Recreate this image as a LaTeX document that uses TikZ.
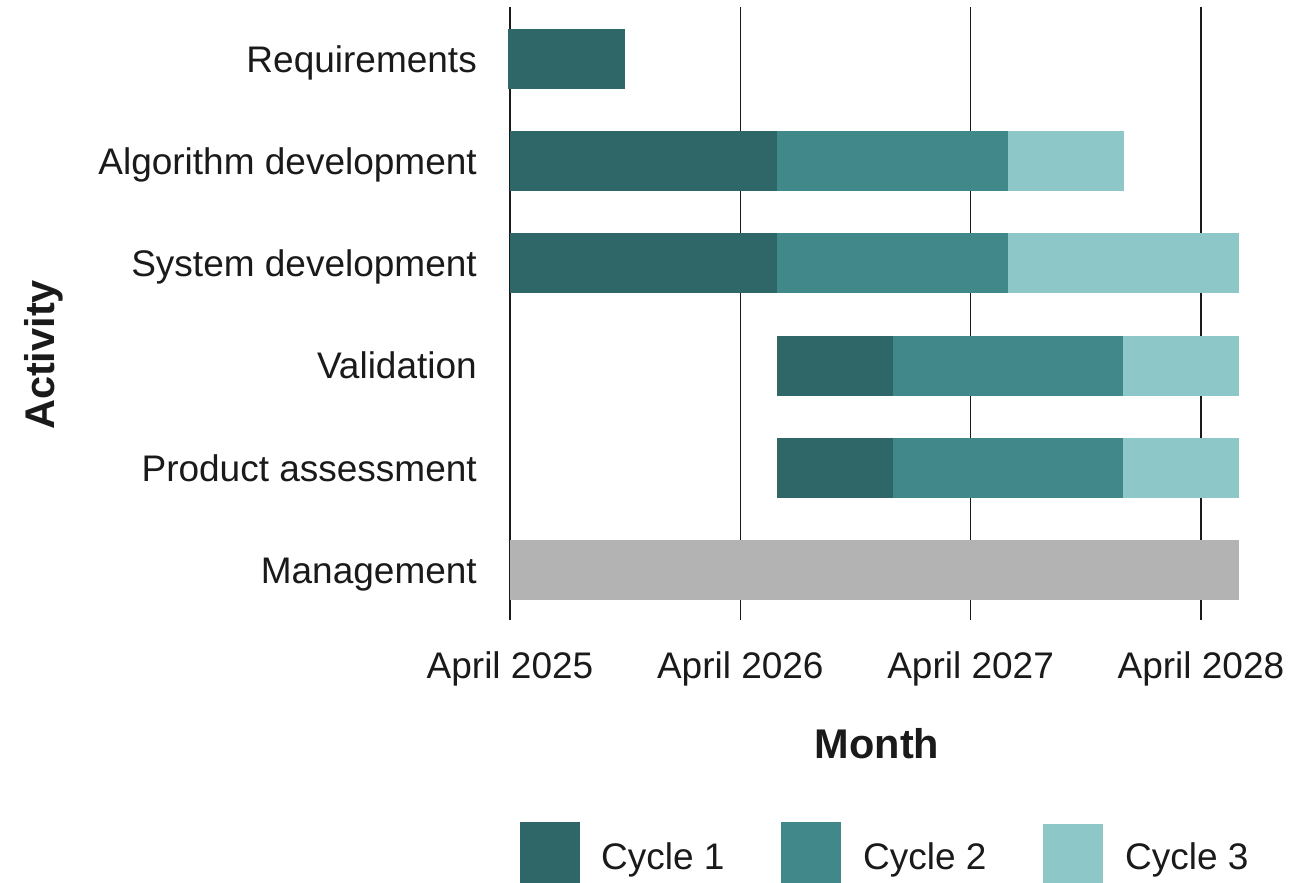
\documentclass[tikz,border=0pt]{standalone}
\usepackage{fontspec}
\setmainfont{Liberation Sans}
\definecolor{cycA}{HTML}{2F6769}
\definecolor{cycB}{HTML}{41888A}
\definecolor{cycC}{HTML}{8DC7C8}
\definecolor{mgmt}{HTML}{B3B3B3}
\definecolor{ink}{HTML}{1A1A1A}
\begin{document}
\begin{tikzpicture}[x=1pt,y=-1pt,
  grid/.style={draw=ink,line width=1.4pt},
  lbl/.style={font=\fontsize{37}{44}\selectfont,text=ink,inner sep=0pt},
  ttl/.style={font=\fontsize{41.5}{50}\selectfont\bfseries,text=ink,inner sep=0pt},
  barA/.style={fill=cycA},
  barB/.style={fill=cycB},
  barC/.style={fill=cycC},
  barM/.style={fill=mgmt}]
\useasboundingbox (0,0) rectangle (1315,883);
\def\mx#1{510+#1*19.1917}
% grid lines
\foreach \i in {0,1,2,3}{
  \coordinate (gt\i) at ({510+\i*230.3},7);
  \coordinate (gb\i) at ({510+\i*230.3},620);
  \draw[grid] (gt\i) -- (gb\i);
}
% row tops: 29 + 102.2*i, height 60
\newcommand{\gbar}[4]{\fill[#1] ({\mx{#2}},{29+102.2*#4}) rectangle ({\mx{#3}},{89+102.2*#4});}
\gbar{barA}{-0.1}{6}{0}
\gbar{barA}{0}{13.9}{1}\gbar{barB}{13.9}{25.95}{1}\gbar{barC}{25.95}{32}{1}
\gbar{barA}{0}{13.9}{2}\gbar{barB}{13.9}{25.95}{2}\gbar{barC}{25.95}{38}{2}
\gbar{barA}{13.9}{19.95}{3}\gbar{barB}{19.95}{31.95}{3}\gbar{barC}{31.95}{38}{3}
\gbar{barA}{13.9}{19.95}{4}\gbar{barB}{19.95}{31.95}{4}\gbar{barC}{31.95}{38}{4}
\gbar{barM}{0}{38}{5}
% activity labels
\node[lbl,anchor=base east] (r0) at (477,{59+13.2}) {Requirements};
\node[lbl,anchor=base east] (r1) at (477,{59+102.2+13.2}) {Algorithm development};
\node[lbl,anchor=base east] (r2) at (477,{59+204.4+13.2}) {System development};
\node[lbl,anchor=base east] (r3) at (477,{59+306.6+13.2}) {Validation};
\node[lbl,anchor=base east] (r4) at (477,{59+408.8+13.2}) {Product assessment};
\node[lbl,anchor=base east] (r5) at (477,{59+511+13.2}) {Management};
% tick labels
\node[lbl,anchor=base] (t0) at (510,678) {April 2025};
\node[lbl,anchor=base] (t1) at (740.3,678) {April 2026};
\node[lbl,anchor=base] (t2) at (970.6,678) {April 2027};
\node[lbl,anchor=base] (t3) at (1200.9,678) {April 2028};
% axis titles
\node[ttl,anchor=base] (xt) at (877,758) {Month};
\node[ttl,anchor=base,rotate=90] (yt) at (54,355) {Activity};
% legend
\fill[barA] (520,822) rectangle (580,883);
\fill[barB] (781,822) rectangle (841,883);
\fill[barC] (1043,824) rectangle (1103,883);
\node[lbl,anchor=base west] (l1) at (601,869) {Cycle 1};
\node[lbl,anchor=base west] (l2) at (863,869) {Cycle 2};
\node[lbl,anchor=base west] (l3) at (1125,869) {Cycle 3};
\end{tikzpicture}
\end{document}
